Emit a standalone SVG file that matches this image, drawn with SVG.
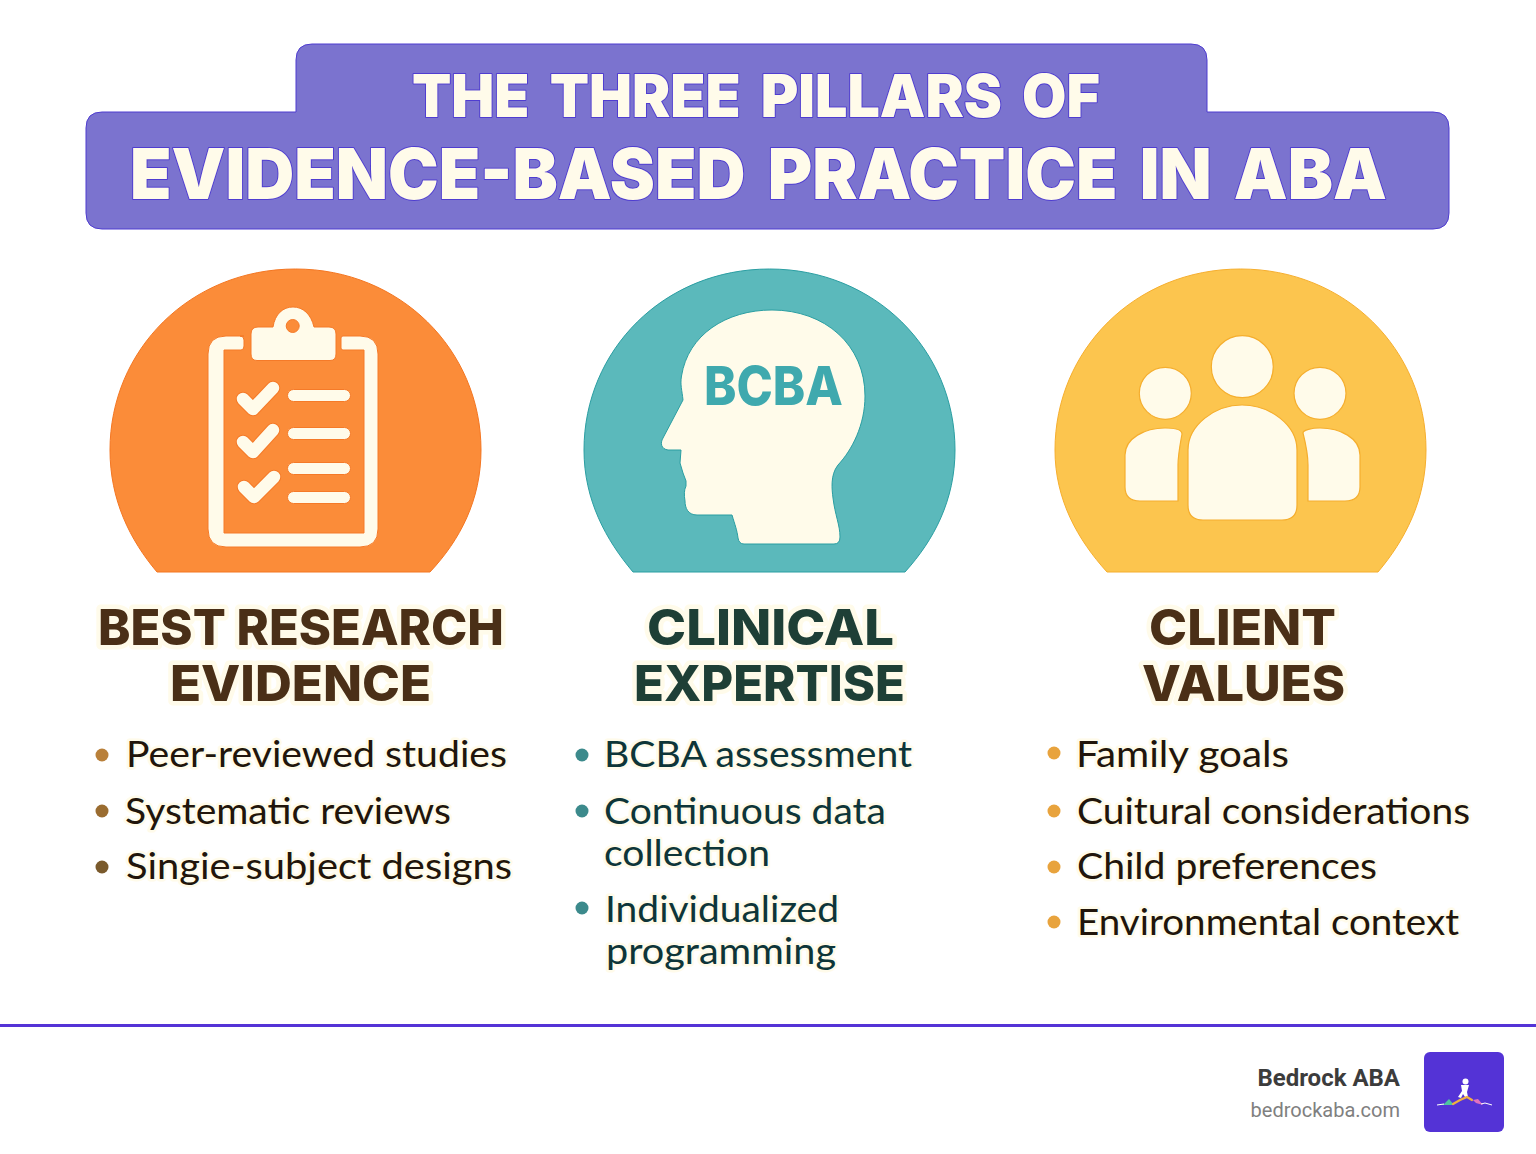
<svg xmlns="http://www.w3.org/2000/svg" width="1536" height="1154" viewBox="0 0 1536 1154">
<style>
text{font-family:"Lato","Liberation Sans",sans-serif}
.t{fill:#FFFBEA;stroke:#4F3DD0;stroke-width:2;paint-order:stroke;font-weight:900;text-anchor:middle;stroke-linejoin:round;font-family:Inter,"Liberation Sans",sans-serif;word-spacing:9px}
.h{font-size:50px;font-weight:800;text-anchor:middle;stroke:#FFFBEA;stroke-width:9;paint-order:stroke;stroke-linejoin:round;font-family:Inter,"Liberation Sans",sans-serif}
.b{font-size:37px;stroke:#FFFBEA;stroke-width:5;paint-order:stroke;stroke-linejoin:round}
.brown{fill:#4A2F17}.green{fill:#1E3F36}.bb{fill:#21150B}.bg{fill:#0E3538}.cr{fill:#FFFBEA}
.or{fill:#FB8C39;stroke:#F47621;stroke-width:1}
.te{fill:#5BB9BB;stroke:#2A9EA2;stroke-width:1}
.ye{fill:#FCC54E;stroke:#F6AE2D;stroke-width:1}
.co{stroke:#F57A28;stroke-width:1}
.cy{stroke:#F5AE2E;stroke-width:1.2}
.ck{fill:none;stroke:#F57A28;stroke-width:14.5;stroke-linecap:round;stroke-linejoin:round}
.ck2{fill:none;stroke:#FFFBEA;stroke-width:12.5;stroke-linecap:round;stroke-linejoin:round}
</style>
<rect width="1536" height="1154" fill="#FFFFFF"/>
<g id="banner">
<path d="M296,112V60Q296,44 312,44H1191Q1207,44 1207,60V112H1433Q1449,112 1449,128V213Q1449,229 1433,229H102Q86,229 86,213V128Q86,112 102,112Z" fill="#7B73CF" stroke="#4F3DD0" stroke-width="1"/>
<text class="t" x="756" y="117" font-size="59" textLength="688" lengthAdjust="spacingAndGlyphs">THE THREE PILLARS OF</text>
<text class="t" x="758.500" y="199" font-size="70" textLength="1257" lengthAdjust="spacingAndGlyphs">EVIDENCE-BASED PRACTICE IN ABA</text>
</g>
<g id="pillar-research">
<path class="or" d="M157,572C130,540 110,500 110,450C110,350 190,269 295.500,269C400,269 481,350 481,450C481,500 460,540 430,572Z"/>
<path class="cr co" d="M244,336H226Q208,336 208,354V529Q208,547 226,547H360Q378,547 378,529V354Q378,336 360,336H343Q341,336 341,338V348Q341,350 343,350H364V533H224V350H241Q244,350 244,346V340Q244,336 240,336Z"/>
<path class="cr co" d="M251,334Q251,327 258,327H273C275,314 283,307 293,307C303,307 311,314 314,327H329Q336,327 336,334V354Q336,360.500 330,360.500H257Q251,360.500 251,354Z"/>
<circle cx="292.700" cy="326" r="6.500" fill="#FB8C39" stroke="#F57A28"/>
<path class="ck" d="M243,399L253,409L273,388M243,442L253,452L273,430M244,487L254,497L274,477"/>
<path class="ck2" d="M243,399L253,409L273,388M243,442L253,452L273,430M244,487L254,497L274,477"/>
<rect class="cr co" x="287.500" y="389.500" width="63" height="12" rx="6"/>
<rect class="cr co" x="287.500" y="427.500" width="63" height="12" rx="6"/>
<rect class="cr co" x="287.500" y="462.500" width="63" height="12" rx="6"/>
<rect class="cr co" x="287.500" y="491.500" width="63" height="12" rx="6"/>
<text class="h brown" x="301" y="645" textLength="406" lengthAdjust="spacingAndGlyphs">BEST RESEARCH</text>
<text class="h brown" x="300.500" y="701" textLength="261" lengthAdjust="spacingAndGlyphs">EVIDENCE</text>
<circle cx="102" cy="755" r="6.500" fill="#B9803A"/><circle cx="102" cy="811" r="6.500" fill="#9A6C30"/><circle cx="102" cy="867" r="6.500" fill="#7A5A2C"/>
<text class="b bb" x="126" y="767" textLength="381" lengthAdjust="spacingAndGlyphs">Peer-reviewed studies</text>
<text class="b bb" x="125" y="824" textLength="326" lengthAdjust="spacingAndGlyphs">Systematic reviews</text>
<text class="b bb" x="126" y="879" textLength="386" lengthAdjust="spacingAndGlyphs">Singie-subject designs</text>
</g>
<g id="pillar-expertise">
<path class="te" d="M633,572C606,540 584,500 584,450C584,350 664,269 769.500,269C875,269 955,350 955,450C955,500 934,540 905,572Z"/>
<path class="cr" stroke="#2A9EA2" stroke-width="1" d="M681.500,376C688,335 726,310 772,310C825,310 865,345 865,396C865,425 852,450 838,465C830,475 832,490 833,498C835,515 840,525 840,537Q840,544 834,544H744Q739,544 738,538C737,530 735,525 732,515H697C688,515 685,508 685,501C684,495 684,490 686,486L686,481L683,473L680,463L681,450L668,450C661,449 660,443 663,438L683,400C682,390 680,385 681.500,376Z"/>
<text x="773.500" y="405" font-size="54" font-weight="800" text-anchor="middle" fill="#3FA9AE" textLength="139" lengthAdjust="spacingAndGlyphs" style="font-family:Inter,sans-serif">BCBA</text>
<text class="h green" x="770.500" y="645" textLength="247" lengthAdjust="spacingAndGlyphs">CLINICAL</text>
<text class="h green" x="769.500" y="701" textLength="271" lengthAdjust="spacingAndGlyphs">EXPERTISE</text>
<circle cx="582" cy="755" r="6.500" fill="#3C8A8C"/><circle cx="582" cy="811" r="6.500" fill="#3C8A8C"/><circle cx="582" cy="908" r="6.500" fill="#3C8A8C"/>
<text class="b bg" x="604" y="767" textLength="308" lengthAdjust="spacingAndGlyphs">BCBA assessment</text>
<text class="b bg" x="604" y="824" textLength="282" lengthAdjust="spacingAndGlyphs">Continuous data</text>
<text class="b bg" x="604" y="866" textLength="166" lengthAdjust="spacingAndGlyphs">collection</text>
<text class="b bg" x="605" y="922" textLength="234" lengthAdjust="spacingAndGlyphs">Individualized</text>
<text class="b bg" x="606" y="964" textLength="230" lengthAdjust="spacingAndGlyphs">programming</text>
</g>
<g id="pillar-values">
<path class="ye" d="M1107,572C1078,540 1055,500 1055,450C1055,350 1135,269 1240.500,269C1346,269 1426,350 1426,450C1426,500 1405,540 1378,572Z"/>
<circle class="cr cy" cx="1242.300" cy="366.700" r="31"/>
<circle class="cr cy" cx="1165.300" cy="393.300" r="26"/>
<circle class="cr cy" cx="1320" cy="393.300" r="26"/>
<path class="cr cy" d="M1188,505V450C1188,425 1215,405 1242,405C1270,405 1297,425 1297,450V505Q1297,520 1282,520H1203Q1188,520 1188,505Z"/>
<path class="cr cy" d="M1125,487V455C1125,438 1145,428 1165,428C1175,428 1182,430 1182,434C1180,445 1178,455 1178,465V501H1140Q1125,501 1125,487Z"/>
<path class="cr cy" d="M1360,487V455C1360,438 1340,428 1320,428C1312,428 1303,430 1303,433C1306,445 1308,455 1308,465V501H1345Q1360,501 1360,487Z"/>
<text class="h brown" x="1242.500" y="645" textLength="187" lengthAdjust="spacingAndGlyphs">CLIENT</text>
<text class="h brown" x="1243.500" y="701" textLength="203" lengthAdjust="spacingAndGlyphs">VALUES</text>
<circle cx="1054" cy="753" r="6.500" fill="#E8A33D"/><circle cx="1054" cy="811" r="6.500" fill="#E8A33D"/><circle cx="1054" cy="867" r="6.500" fill="#E8A33D"/><circle cx="1054" cy="922" r="6.500" fill="#E8A33D"/>
<text class="b bb" x="1076" y="767" textLength="213" lengthAdjust="spacingAndGlyphs">Family goals</text>
<text class="b bb" x="1077" y="824" textLength="393" lengthAdjust="spacingAndGlyphs">Cuitural considerations</text>
<text class="b bb" x="1077" y="879" textLength="300" lengthAdjust="spacingAndGlyphs">Child preferences</text>
<text class="b bb" x="1077" y="935" textLength="382" lengthAdjust="spacingAndGlyphs">Environmental context</text>
</g>
<g id="footer">
<line x1="0" y1="1025.500" x2="1536" y2="1025.500" stroke="#5433D6" stroke-width="3"/>
<text x="1400" y="1086" font-size="24" font-weight="700" text-anchor="end" fill="#3C3C3C" style="font-family:Roboto,sans-serif">Bedrock ABA</text>
<text x="1400" y="1117" font-size="20" text-anchor="end" fill="#808080" style="font-family:Roboto,sans-serif">bedrockaba.com</text>
<rect x="1424" y="1052" width="80" height="80" rx="6" fill="#5433D6"/>
<circle cx="1465.500" cy="1081.500" r="3" fill="#fff"/>
<path d="M1461,1085L1469,1085L1467,1092L1468,1097L1465,1097L1463,1094L1461,1098L1458,1097L1462,1091Z" fill="#fff"/>
<path d="M1437,1105L1444,1104L1449,1099L1454,1105Z" fill="#4FC3A1"/>
<path d="M1453,1104L1460,1100L1467,1097L1472,1100" fill="none" stroke="#F0B040" stroke-width="2.200" stroke-linecap="round"/>
<path d="M1473,1100L1478,1099L1483,1105L1476,1103Z" fill="#E070C0"/>
<path d="M1437,1105L1444,1104M1481,1104L1485,1103L1492,1105" fill="none" stroke="#fff" stroke-width="1"/>
</g>
</svg>
